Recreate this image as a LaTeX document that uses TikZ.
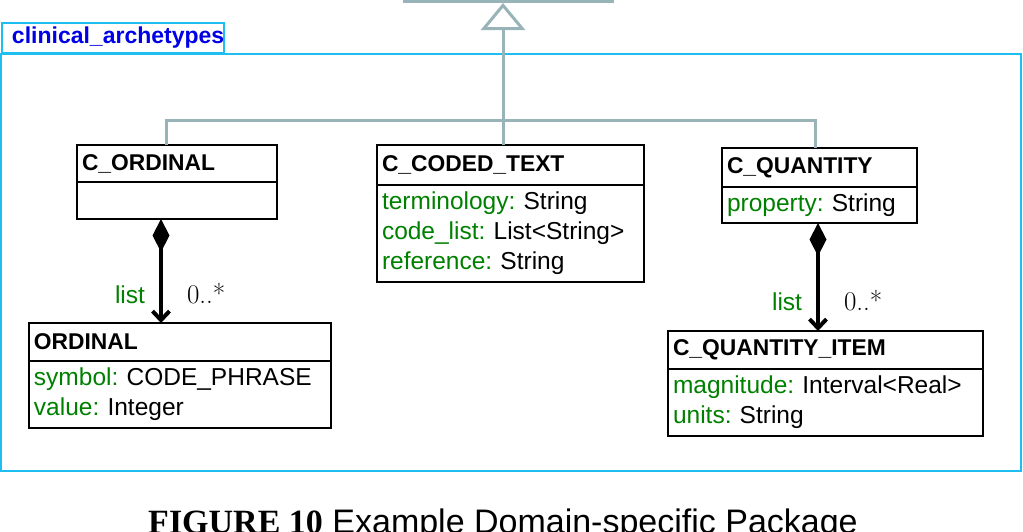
\documentclass[tikz,border=0pt]{standalone}
\usepackage{fontspec}
\usetikzlibrary{arrows.meta, positioning}

\newfontfamily\umlfont{Liberation Sans}
\newfontfamily\capfont{Liberation Serif}

\definecolor{pkgcyan}{RGB}{30,190,240}
\definecolor{pkgblue}{RGB}{0,0,230}
\definecolor{attgreen}{RGB}{0,128,0}
\definecolor{gengray}{RGB}{152,180,184}

\newcommand{\att}[2]{\textcolor{attgreen}{#1:}\ #2}

\begin{document}
\begin{tikzpicture}[
    x=1pt, y=-1pt,
    hdr/.style={draw, line width=1.5pt, outer sep=0pt, inner xsep=5pt, inner ysep=0pt, anchor=north west, align=left, text width=#1, font=\umlfont\bfseries\fontsize{22.8}{26}\selectfont},
    attrs/.style={draw, line width=1.5pt, outer sep=0pt, inner xsep=5pt, inner ysep=0pt, align=left, text width=#1, font=\umlfont\fontsize{24.5}{30}\selectfont},
    pkgframe/.style={draw=pkgcyan, line width=2pt, outer sep=0pt, inner sep=0pt},
    gen/.style={draw=gengray, line width=3pt},
    comp/.style={{Diamond[length=33pt,width=17pt]}-{Straight Barb[length=9pt,width=17pt]}, line width=4pt},
    role/.style={font=\umlfont\fontsize{24.5}{30}\selectfont, text=attgreen, anchor=base east, inner sep=0pt},
    mult/.style={font=\fontsize{27}{30}\selectfont, anchor=base west, inner sep=0pt}
]
\useasboundingbox (0,0) rectangle (1023,531);

% Package frame
\node[pkgframe, minimum width=1020pt, minimum height=417pt, anchor=north west] (pkg) at (1,54) {};
\node[pkgframe, minimum width=222pt, minimum height=30pt, anchor=north west, inner xsep=10pt, text width=202pt, align=left, text=pkgblue, font=\umlfont\bfseries\fontsize{23}{26}\selectfont] (pkgtab) at (2,23) {clinical\_archetypes};

% Classes using absolute positioning for exact control
\node[hdr=190pt, minimum height=37pt] (cord) at (77,145) {C\_ORDINAL};
\node[attrs=190pt, minimum height=37pt, below=0pt of cord] (cord-a) {};

\node[hdr=257pt, minimum height=40pt] (cct) at (377,145) {C\_CODED\_TEXT};
\node[attrs=257pt, minimum height=97pt, below=0pt of cct] (cct-a) {\att{terminology}{String}\\ \att{code\_list}{List<String>}\\ \att{reference}{String}};

\node[hdr=185pt, minimum height=39pt] (cqty) at (722,148) {C\_QUANTITY};
\node[attrs=185pt, minimum height=36pt, below=0pt of cqty] (cqty-a) {\att{property}{String}};

\node[hdr=292pt, minimum height=38pt] (ord) at (29,323) {ORDINAL};
\node[attrs=292pt, minimum height=67pt, below=0pt of ord] (ord-a) {\att{symbol}{CODE\_PHRASE}\\ \att{value}{Integer}};

\node[hdr=305pt, minimum height=38pt] (cqi) at (668,331) {C\_QUANTITY\_ITEM};
\node[attrs=305pt, minimum height=67pt, below=0pt of cqi] (cqi-a) {\att{magnitude}{Interval<Real>}\\ \att{units}{String}};

% Inheritance
\coordinate (parent-l) at (403,1);
\coordinate (parent-r) at (614,1);
\coordinate (apex) at (503,3);
\coordinate (fork) at (503,120);
\draw[gen] (parent-l) -- (parent-r);
\draw[gen, -{Triangle[open, length=27pt, width=44pt]}] ([xshift=-7.5pt]cct.north) -- (apex);
\draw[gen] ([xshift=-11pt]cord.north) |- (fork) -| ([xshift=-4.5pt]cqty.north);

% Compositions
\draw[comp] ([xshift=-16pt]cord-a.south) -- node[pos=0.81, role, xshift=-14pt] (l-ord) {list} node[pos=0.81, mult, xshift=24pt] (m-ord) {0..*} ([xshift=-19pt]ord.north);
\draw[comp] ([xshift=-1.5pt]cqty-a.south) -- node[pos=0.81, role, xshift=-14pt] (l-cqi) {list} node[pos=0.81, mult, xshift=24pt] (m-cqi) {0..*} ([xshift=-7.5pt]cqi.north);

% Caption
\node[anchor=base, inner sep=0pt, font=\umlfont\fontsize{34}{38}\selectfont] (caption) at (503,533) {{\capfont\bfseries FIGURE 10} Example Domain-specific Package};

\end{tikzpicture}
\end{document}
